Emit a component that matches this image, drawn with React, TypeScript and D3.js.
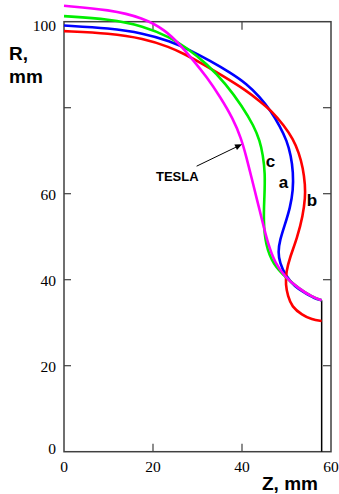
import React from "react";
import { scaleLinear, line, curveBasis } from "d3";

// cavity half-profiles, [z mm, R mm]
const curveA: [number, number][] = [
  [0, 99.1], [10.3, 98.5], [17.8, 97.3], [23.8, 95.5], [28.3, 93.4], [32.8, 90.9],
  [37.3, 88.2], [41.1, 85.5], [44.0, 82.5], [46.5, 79.2], [48.5, 75.7], [50.1, 72.3],
  [51.0, 68.8], [51.5, 65.0], [51.5, 60.8], [50.8, 56.7], [49.7, 53.0], [48.5, 49.2],
  [48.1, 46.4], [48.5, 43.9], [49.7, 41.1], [51.9, 38.3], [54.2, 36.9], [56.2, 35.7],
  [57.9, 35.2],
];
const curveB: [number, number][] = [
  [0, 97.8], [10.3, 97.3], [17.8, 96.1], [23.8, 94.1], [27.2, 92.4], [30.6, 90.5],
  [35.7, 87.4], [41.1, 83.9], [44.0, 81.5], [46.7, 79.2], [49.4, 75.9], [51.5, 72.7],
  [52.8, 69.5], [53.7, 66.0], [54.2, 62.0], [54.2, 59.0], [53.7, 55.0], [52.4, 49.7],
  [50.8, 45.3], [49.9, 41.8], [49.8, 38.8], [50.3, 36.2], [51.2, 33.7], [53.5, 31.8],
  [55.7, 30.7], [57.9, 30.4],
];
const curveC: [number, number][] = [
  [0, 101.3], [10.3, 100.6], [17.8, 99.0], [23.8, 96.4], [27.6, 93.9], [32.1, 90.2],
  [36.4, 85.5], [40.0, 80.4], [42.7, 75.7], [44.0, 72.3], [44.7, 69.0], [45.2, 64.8],
  [45.05, 59.2], [44.8, 53.9], [45.3, 48.0], [47.0, 43.5], [50.1, 40.3], [52.6, 38.1],
  [55.7, 36.0], [57.9, 35.2],
];
const curveTesla: [number, number][] = [
  [0, 103.7], [10.3, 102.8], [17.8, 100.9], [22.7, 98.1], [26.1, 94.6], [29.0, 91.1],
  [32.1, 87.1], [35.1, 82.5], [38.0, 77.4], [39.8, 72.9], [41.0, 68.5], [42.1, 63.9],
  [43.4, 58.5], [44.5, 53.9], [45.8, 48.5], [47.4, 43.9], [49.7, 40.6], [52.6, 38.1],
  [55.7, 36.0], [57.9, 35.2],
];
const beamPipe: [number, number][] = [[57.9, 35.2], [57.9, 0]];

const xTicks = [0, 20, 40, 60];
const yTicks = [0, 20, 40, 60, 80, 100];
const yTickLabels = ["0", "20", "40", "60", "", "100"];

const W = 339;
const H = 494;

export default function App() {
  const x = scaleLinear().domain([0, 60]).range([64, 331]);
  const y = scaleLinear().domain([0, 100]).range([451.7, 21.7]);
  const smooth = line<[number, number]>()
    .x((d) => x(d[0]))
    .y((d) => y(d[1]))
    .curve(curveBasis);
  const straight = line<[number, number]>()
    .x((d) => x(d[0]))
    .y((d) => y(d[1]));
  const frame = "#404040";
  const tickLen = 8;
  const serif = "'Liberation Serif', 'Times New Roman', serif";
  const sans = "'Liberation Sans', Arial, sans-serif";

  const series = [
    { pts: curveA, color: "#0000ff" },
    { pts: curveB, color: "#ff0000" },
    { pts: curveC, color: "#00ee00" },
    { pts: curveTesla, color: "#ff00ff" },
  ];

  // arrow from TESLA label to the magenta curve
  const ax1 = x(29.8), ay1 = y(66.4);
  const ax2 = x(40.0), ay2 = y(71.5);
  const ang = Math.atan2(ay2 - ay1, ax2 - ax1);
  const ah = 7, aw = 3;
  const head = [
    [ax2, ay2],
    [ax2 - ah * Math.cos(ang) + aw * Math.sin(ang), ay2 - ah * Math.sin(ang) - aw * Math.cos(ang)],
    [ax2 - ah * Math.cos(ang) - aw * Math.sin(ang), ay2 - ah * Math.sin(ang) + aw * Math.cos(ang)],
  ];

  // the end labels sit a little off their ticks in the original
  const yLabelDy = (t: number) => (t === 0 ? 2 : t === 100 ? 9 : 6);

  return (
    <svg
      width={W}
      height={H}
      style={{ position: "absolute", left: 0, top: 0, background: "#fff" }}
    >
      {/* frame */}
      <rect
        x={x(0)}
        y={y(100)}
        width={x(60) - x(0)}
        height={y(0) - y(100)}
        fill="none"
        stroke={frame}
        strokeWidth={1.5}
      />
      {/* ticks */}
      {xTicks.filter((t) => t > 0 && t < 60).map((t) => (
        <g key={"xt" + t} stroke={frame} strokeWidth={1.2}>
          <line x1={x(t)} x2={x(t)} y1={y(0)} y2={y(0) - tickLen} />
          <line x1={x(t)} x2={x(t)} y1={y(100)} y2={y(100) + tickLen} />
        </g>
      ))}
      {yTicks.filter((t) => t > 0 && t < 100).map((t) => (
        <g key={"yt" + t} stroke={frame} strokeWidth={1.2}>
          <line x1={x(0)} x2={x(0) + 7} y1={y(t)} y2={y(t)} />
          <line x1={x(60)} x2={x(60) - tickLen} y1={y(t)} y2={y(t)} />
        </g>
      ))}
      {/* tick labels */}
      {xTicks.map((t) => (
        <text
          key={"xl" + t}
          x={x(t)}
          y={472}
          textAnchor="middle"
          fontFamily={serif}
          fontSize={15.5}
          fill="#000"
        >
          {t}
        </text>
      ))}
      {yTicks.map((t, i) => (
        <text
          key={"yl" + t}
          x={56}
          y={y(t) + yLabelDy(t)}
          textAnchor="end"
          fontFamily={serif}
          fontSize={15.5}
          fill="#000"
        >
          {yTickLabels[i]}
        </text>
      ))}
      {/* axis titles */}
      <text x={9} y={60} fontFamily={sans} fontWeight="bold" fontSize={19} fill="#000">R,</text>
      <text x={9} y={83} fontFamily={sans} fontWeight="bold" fontSize={19} fill="#000">mm</text>
      <text x={262} y={490} fontFamily={sans} fontWeight="bold" fontSize={19} fill="#000">Z, mm</text>

      {/* beam pipe */}
      <path d={straight(beamPipe) ?? ""} stroke="#000" strokeWidth={1.5} fill="none" />
      {/* curves */}
      {series.map((s, i) => (
        <path
          key={i}
          d={smooth(s.pts) ?? ""}
          fill="none"
          stroke={s.color}
          strokeWidth={2.6}
          strokeLinejoin="round"
        />
      ))}

      {/* annotations */}
      <line x1={ax1} y1={ay1} x2={ax2 - 5 * Math.cos(ang)} y2={ay2 - 5 * Math.sin(ang)} stroke="#000" strokeWidth={1} />
      <polygon points={head.map((p) => p.join(",")).join(" ")} fill="#000" />
      <text x={156} y={181} fontFamily={sans} fontWeight="bold" fontSize={13} fill="#000">TESLA</text>
      <text x={270.5} y={167} textAnchor="middle" fontFamily={sans} fontWeight="bold" fontSize={17} fill="#000">c</text>
      <text x={283.5} y={188} textAnchor="middle" fontFamily={sans} fontWeight="bold" fontSize={17} fill="#000">a</text>
      <text x={312} y={206} textAnchor="middle" fontFamily={sans} fontWeight="bold" fontSize={17} fill="#000">b</text>
    </svg>
  );
}
